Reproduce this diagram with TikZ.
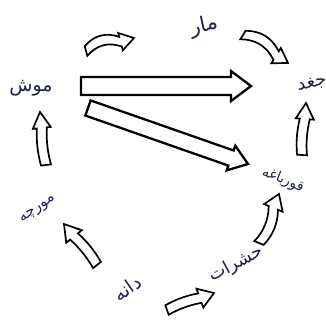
\documentclass[tikz,border=0pt]{standalone}
\usepackage{fontspec}
\newfontfamily\arabicfont[Script=Arabic]{DejaVu Sans}
\TeXXeTstate=1
\usetikzlibrary{calc}
\definecolor{ink}{rgb}{0.12,0.14,0.27}
\tikzset{
  blockarrow/.style={draw=black, fill=white, line width=1.7pt, line join=miter},
  bigarrow/.style={blockarrow, line width=2.3pt},
  lab/.style={font=\arabicfont\fontsize{#1}{#1}\selectfont, text=ink, inner sep=0pt},
  lab/.default=14
}
% from, to, shaft half width, head half width, head length, bend, style
\newcommand\fatarrow[7]{%
  \pgfpointanchor{#1}{center}\pgfgetlastxy\faxa\faya
  \pgfpointanchor{#2}{center}\pgfgetlastxy\faxb\fayb
  \pgfmathsetmacro\fal{veclen(\faxb-\faxa,\fayb-\faya)}%
  \pgfmathsetmacro\faa{atan2(\fayb-\faya,\faxb-\faxa)}%
  \pgfmathsetmacro\fas{\fal-(#5)}%
  \pgfmathsetmacro\fao{(#3)+(#6)}%
  \pgfmathsetmacro\fau{-(#3)+(#6)}%
  \begin{scope}[shift={(#1)},rotate=\faa,x=1pt,y=1pt]
    \draw[#7] (0,#3) .. controls ({\fas/3},\fao) and ({2*\fas/3},\fao) .. (\fas,#3)
      -- (\fas,#4) -- (\fal,0) -- (\fas,-#4) -- (\fas,-#3)
      .. controls ({2*\fas/3},\fau) and ({\fas/3},\fau) .. (0,-#3) -- cycle;
  \end{scope}}
\begin{document}
\begin{tikzpicture}[x=1pt,y=-1pt]
\useasboundingbox (0,0) rectangle (326,322);
\fill[white] (0,0) rectangle (326,322);

% labels
\node[lab=19] (mouse) at (31,88) {\beginR موش\endR};
\node[lab=21, rotate=12] (snake) at (204,26) {\beginR مار\endR};
\node[lab=18, rotate=10] (owl) at (312,84) {\beginR جغد\endR};
\node[lab=14, rotate=-22] (frog) at (283,180) {\beginR قورباغه\endR};
\node[lab=18, rotate=28] (insect) at (236,264) {\beginR حشرات\endR};
\node[lab=19, rotate=35] (seed) at (127,288) {\beginR دانه\endR};
\node[lab=15, rotate=35] (ant) at (38,210) {\beginR مورچه\endR};

% arrow end points
\coordinate (a1s) at (86,51);  \coordinate (a1e) at (134,38);
\coordinate (a2s) at (243,35); \coordinate (a2e) at (288,63);
\coordinate (a3s) at (81,86);  \coordinate (a3e) at (251,86);
\coordinate (a4s) at (88,108); \coordinate (a4e) at (248,164);
\coordinate (a5s) at (302,155);\coordinate (a5e) at (306,103);
\coordinate (a6s) at (259,243);\coordinate (a6e) at (279,194);
\coordinate (a7s) at (167,310);\coordinate (a7e) at (214,293);
\coordinate (a8s) at (97,265); \coordinate (a8e) at (64,224);
\coordinate (a9s) at (46,165); \coordinate (a9e) at (40,112);

\fatarrow{a1s}{a1e}{5}{9}{14}{8}{blockarrow}
\fatarrow{a2s}{a2e}{5}{9}{14}{8}{blockarrow}
\fatarrow{a3s}{a3e}{9}{15}{20}{0}{bigarrow}
\fatarrow{a4s}{a4e}{8}{13}{18}{0}{bigarrow}
\fatarrow{a5s}{a5e}{5}{9}{16}{2}{blockarrow}
\fatarrow{a6s}{a6e}{5}{10}{15}{-5}{blockarrow}
\fatarrow{a7s}{a7e}{5}{10}{15}{2}{blockarrow}
\fatarrow{a8s}{a8e}{5}{10}{16}{-2}{blockarrow}
\fatarrow{a9s}{a9e}{5}{9}{16}{2}{blockarrow}
\end{tikzpicture}
\end{document}
